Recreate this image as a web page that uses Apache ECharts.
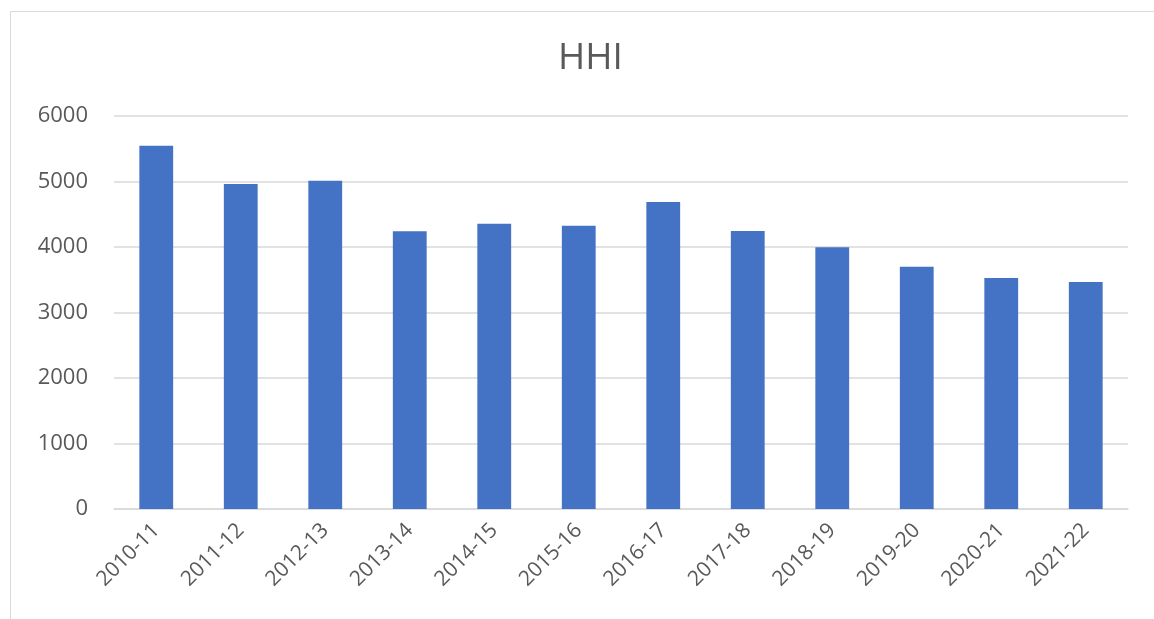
<!DOCTYPE html>
<html>
<head>
<meta charset="utf-8">
<script src="https://cdn.jsdelivr.net/npm/echarts@6/dist/echarts.min.js"></script>
<style>
  html, body { margin: 0; padding: 0; background: #fff; }
  #main { width: 1154px; height: 619px; }
</style>
</head>
<body>
<div id="main"></div>
<script>
var categories = ['2010-11', '2011-12', '2012-13', '2013-14', '2014-15', '2015-16',
                  '2016-17', '2017-18', '2018-19', '2019-20', '2020-21', '2021-22'];
var hhiValues = [5545, 4960, 5010, 4240, 4355, 4325, 4686, 4244, 3995, 3700, 3527, 3466];
var yTicks = [0, 1000, 2000, 3000, 4000, 5000, 6000];

var myChart = echarts.init(document.getElementById('main'));

var option = {
    backgroundColor: '#fff',
    title: {
        text: 'HHI',
        left: 553,
        top: 35,
        textStyle: {
            color: '#595959',
            fontSize: 37,
            fontWeight: 'normal',
            fontFamily: 'Open Sans'
        }
    },
    graphic: [{
        type: 'rect',
        shape: { x: 10.5, y: 11.5, width: 1160, height: 700 },
        style: { fill: 'none', stroke: '#d9d9d9', lineWidth: 1 },
        silent: true
    }],
    grid: {
        left: 114,
        right: 26,
        top: 116,
        bottom: 110
    },
    xAxis: {
        type: 'category',
        data: categories,
        axisLine: { lineStyle: { color: '#d9d9d9', width: 1.5 } },
        axisTick: { show: false },
        axisLabel: {
            rotate: 45,
            color: '#595959',
            fontSize: 21,
            fontFamily: 'Open Sans',
            margin: 18
        }
    },
    yAxis: {
        type: 'value',
        min: yTicks[0],
        max: yTicks[yTicks.length - 1],
        interval: 1000,
        axisLine: { show: false },
        axisTick: { show: false },
        splitLine: { lineStyle: { color: '#d9d9d9', width: 1.5 } },
        axisLabel: {
            color: '#595959',
            fontSize: 22,
            fontFamily: 'Open Sans',
            margin: 26,
            formatter: function (v) { return String(v); }
        }
    },
    series: [{
        type: 'bar',
        data: hhiValues,
        barWidth: '40%',
        itemStyle: { color: '#4472C4' }
    }]
};

myChart.setOption(option, true);
</script>
</body>
</html>
